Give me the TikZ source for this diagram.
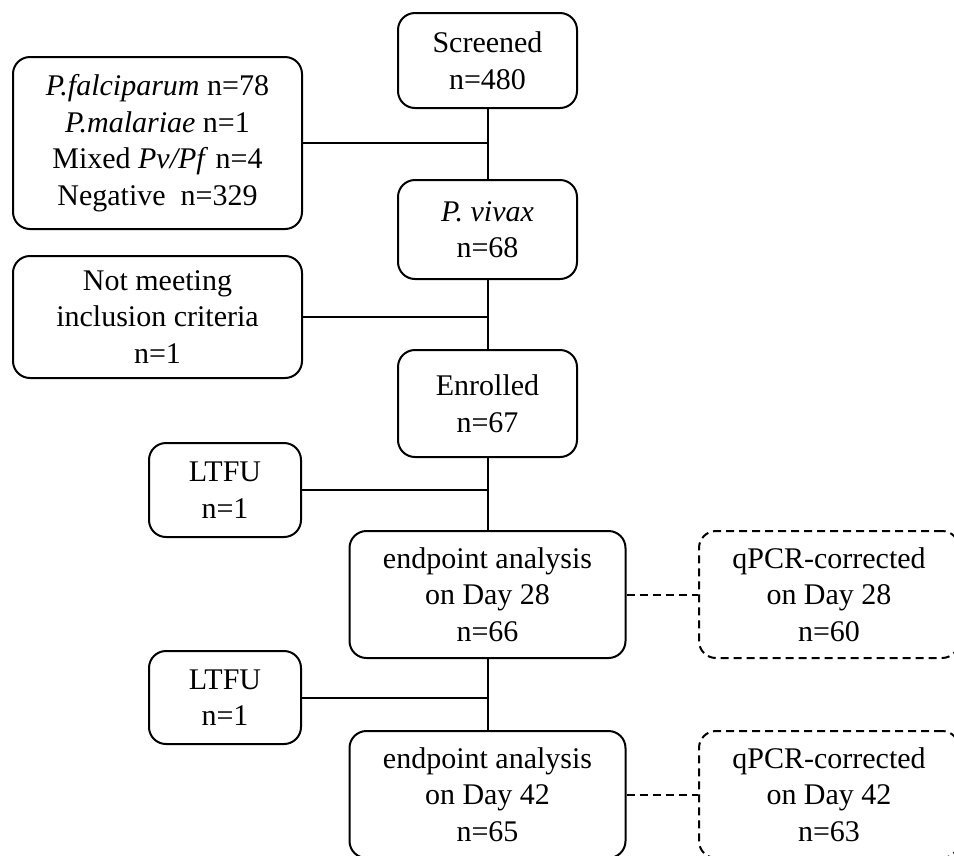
\documentclass[tikz,border=0pt]{standalone}
\usepackage{fontspec}
\setmainfont{Liberation Serif}
\begin{document}
\begin{tikzpicture}[x=1pt,y=-1pt,
  box/.style={draw, line width=2pt, rounded corners=17pt, align=center, inner sep=0pt,
    font=\fontsize{30}{36.5}\selectfont},
  dbox/.style={box, dash pattern=on 8pt off 5pt},
  link/.style={line width=2pt},
  dlink/.style={line width=2pt, dash pattern=on 8pt off 5pt}]
\useasboundingbox (0,0) rectangle (954,855);
\clip (0,0) rectangle (954,855);
\node[box, minimum width=179pt, minimum height=95pt] (scr) at (487.5,60.5) {Screened\\n=480};
\node[box, minimum width=289pt, minimum height=172pt] (pf) at (157.5,143) {\textit{P.falciparum} n=78\\\textit{P.malariae} n=1\\Mixed \textit{Pv/Pf} n=4\\Negative\ \ n=329};
\node[box, minimum width=179pt, minimum height=99pt] (pv) at (487.5,229.5) {\textit{P. vivax}\\n=68};
\node[box, minimum width=289pt, minimum height=122pt] (nm) at (157.5,317) {Not meeting\\inclusion criteria\\n=1};
\node[box, minimum width=179pt, minimum height=107pt] (enr) at (487.5,403.5) {Enrolled\\n=67};
\node[box, minimum width=152pt, minimum height=94pt] (lt1) at (225,490) {LTFU\\n=1};
\node[box, minimum width=276pt, minimum height=127pt] (ep28) at (487.5,594.5) {endpoint analysis\\on Day 28\\n=66};
\node[dbox, minimum width=260pt, minimum height=127pt] (q28) at (829,594.5) {qPCR-corrected\\on Day 28\\n=60};
\node[box, minimum width=152pt, minimum height=93pt] (lt2) at (225,697.5) {LTFU\\n=1};
\node[box, minimum width=276pt, minimum height=127pt] (ep42) at (487.5,794.5) {endpoint analysis\\on Day 42\\n=65};
\node[dbox, minimum width=260pt, minimum height=127pt] (q42) at (829,794.5) {qPCR-corrected\\on Day 42\\n=63};
\draw[link] (scr) -- (pv);
\draw[link] (pv) -- (enr);
\draw[link] (enr) -- (ep28);
\draw[link] (ep28) -- (ep42);
\draw[link] (pf.east) -- (pf.east -| scr.south);
\draw[link] (nm.east) -- (nm.east -| pv.south);
\draw[link] (lt1.east) -- (lt1.east -| enr.south);
\draw[link] (lt2.east) -- (lt2.east -| ep28.south);
\draw[dlink] (ep28.east) -- (q28.west);
\draw[dlink] (ep42.east) -- (q42.west);
\end{tikzpicture}
\end{document}
